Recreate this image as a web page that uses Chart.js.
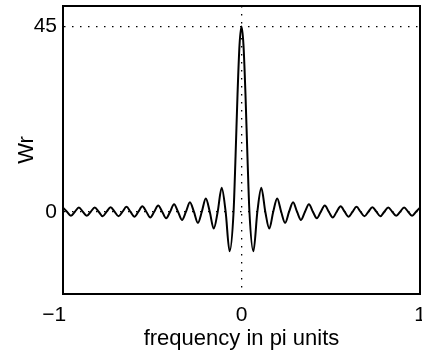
<!DOCTYPE html>
<html>
<head>
<meta charset="utf-8">
<script src="https://cdn.jsdelivr.net/npm/chart.js@4"></script>
<style>
  html, body { margin: 0; padding: 0; background: #fff; }
  canvas { display: block; }
</style>
</head>
<body>
<canvas id="wrChart" width="422" height="360"></canvas>
<script>
// Wr: zero crossings and lobe peaks (frequency in pi units)
const freq = [
  -1.0000, -0.9778, -0.9556, -0.9333, -0.9111, -0.8889, -0.8667, -0.8444,
  -0.8222, -0.8000, -0.7778, -0.7556, -0.7333, -0.7111, -0.6889, -0.6667,
  -0.6444, -0.6222, -0.6000, -0.5778, -0.5556, -0.5333, -0.5111, -0.4889,
  -0.4667, -0.4444, -0.4222, -0.4000, -0.3778, -0.3556, -0.3333, -0.3111,
  -0.2889, -0.2667, -0.2444, -0.2222, -0.2000, -0.1778, -0.1556, -0.1333,
  -0.1111, -0.0889, -0.0667, -0.0444, -0.0333, -0.0222, -0.0111, 0,
  0.0111, 0.0222, 0.0333, 0.0444, 0.0667, 0.0889, 0.1111, 0.1333,
  0.1556, 0.1778, 0.2000, 0.2222, 0.2444, 0.2667, 0.2889, 0.3111,
  0.3333, 0.3556, 0.3778, 0.4000, 0.4222, 0.4444, 0.4667, 0.4889,
  0.5111, 0.5333, 0.5556, 0.5778, 0.6000, 0.6222, 0.6444, 0.6667,
  0.6889, 0.7111, 0.7333, 0.7556, 0.7778, 0.8000, 0.8222, 0.8444,
  0.8667, 0.8889, 0.9111, 0.9333, 0.9556, 0.9778, 1.0000
];
const wr = [
  1.0, 0, -1.0, 0, 1.0, 0, -1.0, 0,
  1.0, 0, -1.1, 0, 1.1, 0, -1.1, 0,
  1.2, 0, -1.2, 0, 1.3, 0, -1.4, 0,
  1.5, 0, -1.6, 0, 1.8, 0, -2.0, 0,
  2.3, 0, -2.7, 0, 3.2, 0, -4.1, 0,
  5.8, 0, -9.6, 0, 13.5, 28.6, 40.5, 45,
  40.5, 28.6, 13.5, 0, -9.6, 0, 5.8, 0,
  -4.1, 0, 3.2, 0, -2.7, 0, 2.3, 0,
  -2.0, 0, 1.8, 0, -1.6, 0, 1.5, 0,
  -1.4, 0, 1.3, 0, -1.2, 0, 1.2, 0,
  -1.1, 0, 1.1, 0, -1.1, 0, 1.0, 0,
  -1.0, 0, 1.0, 0, -1.0, 0, 1.0
];
const xTicks = [-1, 0, 1];
const yTicks = [0, 45];
const xLabel = "frequency in pi units";
const yLabel = "Wr";

Chart.defaults.font.family = "'Liberation Sans', Arial, sans-serif";
Chart.defaults.color = "#000";

const dotted = [1.5, 6.5];
const frame = { display: true, color: "#000", width: 2 };

// minus sign hangs left of the tick, digit sits on it (trailing spaces shift it)
const xTickText = v => v < 0 ? "\u2212" + Math.abs(v) + "   " : String(v);

new Chart(document.getElementById("wrChart").getContext("2d"), {
  type: "line",
  data: {
    datasets: [{
      data: freq.map((f, i) => ({ x: f, y: wr[i] })),
      borderColor: "#000",
      borderWidth: 2,
      pointRadius: 0,
      fill: false,
      cubicInterpolationMode: "monotone",
      xAxisID: "x",
      yAxisID: "y"
    }]
  },
  options: {
    responsive: false,
    animation: false,
    layout: { padding: { left: 0, right: 2, top: 6, bottom: 0 } },
    plugins: { legend: { display: false }, tooltip: { enabled: false } },
    scales: {
      x: {
        type: "linear",
        position: "bottom",
        min: -1,
        max: 1,
        afterBuildTicks: s => { s.ticks = xTicks.map(v => ({ value: v })); },
        afterFit: s => { s.height = 66; s.paddingLeft = 0; s.paddingRight = 0; },
        ticks: {
          padding: 9,
          font: { size: 21 },
          callback: xTickText
        },
        grid: { display: true, drawTicks: false, color: "#000", lineWidth: 1.3 },
        border: { ...frame, dash: dotted },
        title: {
          display: true,
          text: xLabel,
          font: { size: 22 },
          padding: { top: 0, bottom: 8 }
        }
      },
      y: {
        type: "linear",
        position: "left",
        min: -20,
        max: 50,
        afterBuildTicks: s => { s.ticks = yTicks.map(v => ({ value: v })); },
        afterFit: s => { s.width = 63; s.paddingTop = 0; s.paddingBottom = 0; },
        ticks: { padding: 6, font: { size: 21 } },
        grid: { display: true, drawTicks: false, color: "#000", lineWidth: 1.3 },
        border: { ...frame, dash: dotted },
        title: {
          display: true,
          text: yLabel,
          font: { size: 22 },
          padding: { top: 14, bottom: 0 }
        }
      },
      // top and right edges of the box
      xTop: {
        type: "linear",
        axis: "x",
        position: "top",
        display: true,
        min: -1,
        max: 1,
        afterFit: s => { s.height = 0; },
        ticks: { display: false },
        grid: { display: false },
        border: frame
      },
      yRight: {
        type: "linear",
        axis: "y",
        position: "right",
        display: true,
        min: -20,
        max: 50,
        afterFit: s => { s.width = 0; },
        ticks: { display: false },
        grid: { display: false },
        border: frame
      }
    }
  }
});
</script>
</body>
</html>
